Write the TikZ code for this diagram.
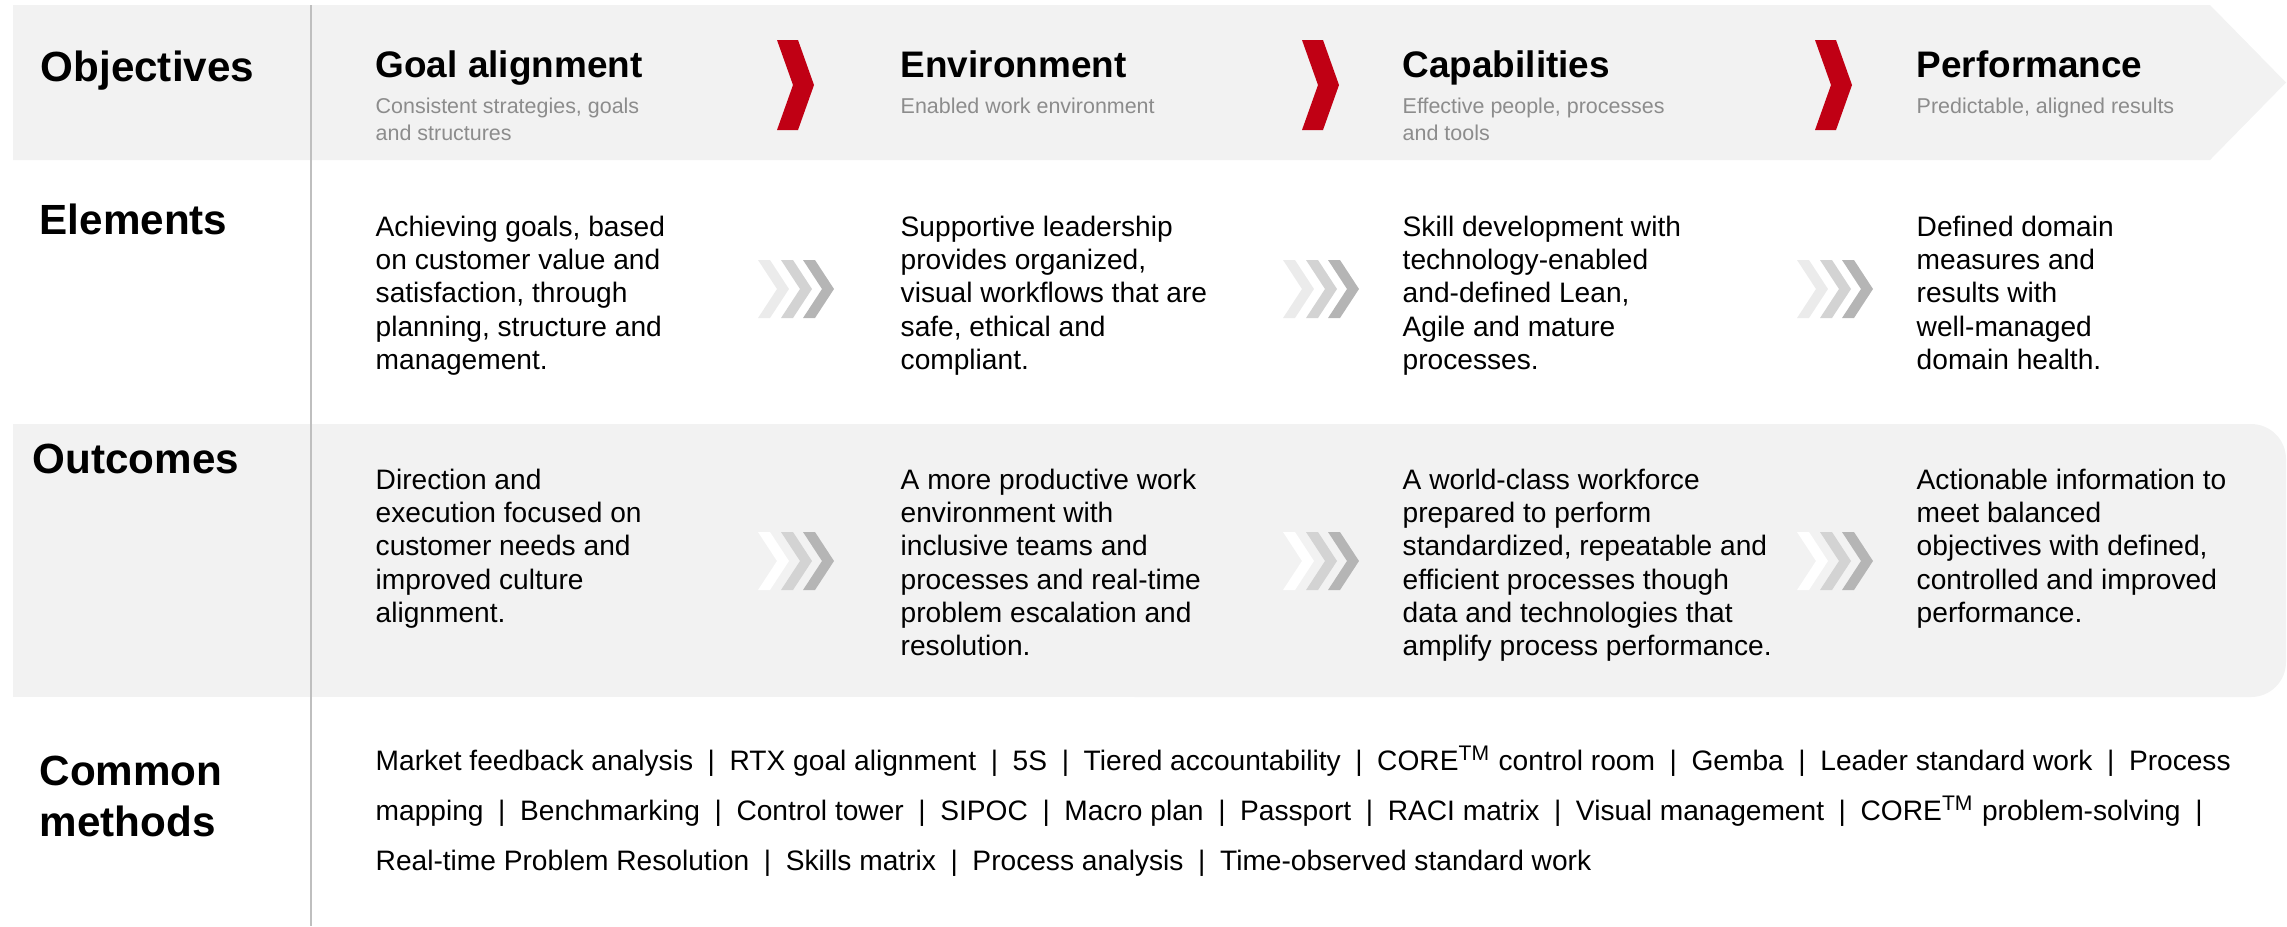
\documentclass[tikz,border=0pt]{standalone}
\usepackage{fontspec}
\setmainfont{Liberation Sans}
\definecolor{bandgray}{HTML}{F2F2F2}
\definecolor{rulegray}{HTML}{BFBFBF}
\definecolor{subgray}{HTML}{8C8C8C}
\definecolor{rtxred}{HTML}{C00014}
\definecolor{chevA}{HTML}{EBEBEB}
\definecolor{chevB}{HTML}{D3D3D3}
\definecolor{chevC}{HTML}{B5B5B5}
\newcommand{\msep}{\hspace{0.52em}|\hspace{0.52em}}
\begin{document}
\begin{tikzpicture}[x=0.01cm,y=-0.01cm,
    rowlabel/.style={font=\fontsize{12}{14.5}\selectfont\bfseries, anchor=base west, inner sep=0},
    colhead/.style={font=\fontsize{10.5}{12}\selectfont\bfseries, anchor=base west, inner sep=0},
    colsub/.style={font=\fontsize{6.1}{7.7}\selectfont, text=subgray, align=left, anchor=north west, inner sep=0},
    body/.style={font=\fontsize{8}{9.47}\selectfont, align=left, anchor=north west, inner sep=0},
    methods/.style={font=\fontsize{8}{14.2}\selectfont, align=left, anchor=north west, inner sep=0},
    redchev/.pic={\fill[rtxred] (0,0) -- (21,0) -- (37,45) -- (21,90) -- (0,90) -- (16,45) -- cycle;},
    greychev/.pic={
      \fill[#1] (0,0) -- (12,0) -- (31,29) -- (12,58) -- (0,58) -- (19,29) -- cycle;
      \fill[chevB] (23,0) -- (35,0) -- (54,29) -- (35,58) -- (23,58) -- (42,29) -- cycle;
      \fill[chevC] (45,0) -- (57,0) -- (76,29) -- (57,58) -- (45,58) -- (64,29) -- cycle;}]
  \useasboundingbox (0,0) rectangle (2287,926);
  \fill[bandgray] (13,5) -- (2210,5) -- (2286,82.5) -- (2210,160) -- (13,160) -- cycle;
  \fill[bandgray] (13,424) rectangle (1200,697);
  \fill[bandgray, rounded corners=0.35cm] (1100,424) rectangle (2286,697);
  \draw[rulegray, line width=0.7pt] (311,5) -- (311,926);

  \node[rowlabel] (obj) at (40,81) {Objectives};
  \node[rowlabel] (elem) at (39,234) {Elements};
  \node[rowlabel] (outc) at (32,473) {Outcomes};
  \node[rowlabel, anchor=north west, align=left] (meth) at (39,755) {Common\\methods};

  \node[colhead] (goal) at (375,77.5) {Goal alignment};
  \node[colhead] (env) at (900,77.5) {Environment};
  \node[colhead] (cap) at (1402,77.5) {Capabilities};
  \node[colhead] (perf) at (1916,77.5) {Performance};

  \node[colsub] (goalsub) at (375,97) {Consistent strategies, goals\\and structures};
  \node[colsub] (envsub) at (900,97) {Enabled work environment};
  \node[colsub] (capsub) at (1402,97) {Effective people, processes\\and tools};
  \node[colsub] (perfsub) at (1916,97) {Predictable, aligned results};

  \pic at (777,40) {redchev};
  \pic at (1302,40) {redchev};
  \pic at (1815,40) {redchev};

  \node[body] (elem1) at (375,215) {Achieving goals, based\\on customer value and\\satisfaction, through\\planning, structure and\\management.};
  \node[body] (elem2) at (900,215) {Supportive leadership\\provides organized,\\visual workflows that are\\safe, ethical and\\compliant.};
  \node[body] (elem3) at (1402,215) {Skill development with\\technology-enabled\\and-defined Lean,\\Agile and mature\\processes.};
  \node[body] (elem4) at (1916,215) {Defined domain\\measures and\\results with\\well-managed\\domain health.};

  \pic at (758,260) {greychev=chevA};
  \pic at (1283,260) {greychev=chevA};
  \pic at (1797,260) {greychev=chevA};

  \node[body] (outc1) at (375,468) {Direction and\\execution focused on\\customer needs and\\improved culture\\alignment.};
  \node[body] (outc2) at (900,468) {A more productive work\\environment with\\inclusive teams and\\processes and real-time\\problem escalation and\\resolution.};
  \node[body] (outc3) at (1402,468) {A world-class workforce\\prepared to perform\\standardized, repeatable and\\efficient processes though\\data and technologies that\\amplify process performance.};
  \node[body] (outc4) at (1916,468) {Actionable information to\\meet balanced\\objectives with defined,\\controlled and improved\\performance.};

  \pic at (758,532) {greychev=white};
  \pic at (1283,532) {greychev=white};
  \pic at (1797,532) {greychev=white};

  \node[methods] (methlist) at (375,745) {Market feedback analysis\msep RTX goal alignment\msep 5S\msep Tiered accountability\msep CORE\textsuperscript{TM} control room\msep Gemba\msep Leader standard work\msep Process\\
    mapping\msep Benchmarking\msep Control tower\msep SIPOC\msep Macro plan\msep Passport\msep RACI matrix\msep Visual management\msep CORE\textsuperscript{TM} problem-solving\msep\\
    Real-time Problem Resolution\msep Skills matrix\msep Process analysis\msep Time-observed standard work};
\end{tikzpicture}
\end{document}
